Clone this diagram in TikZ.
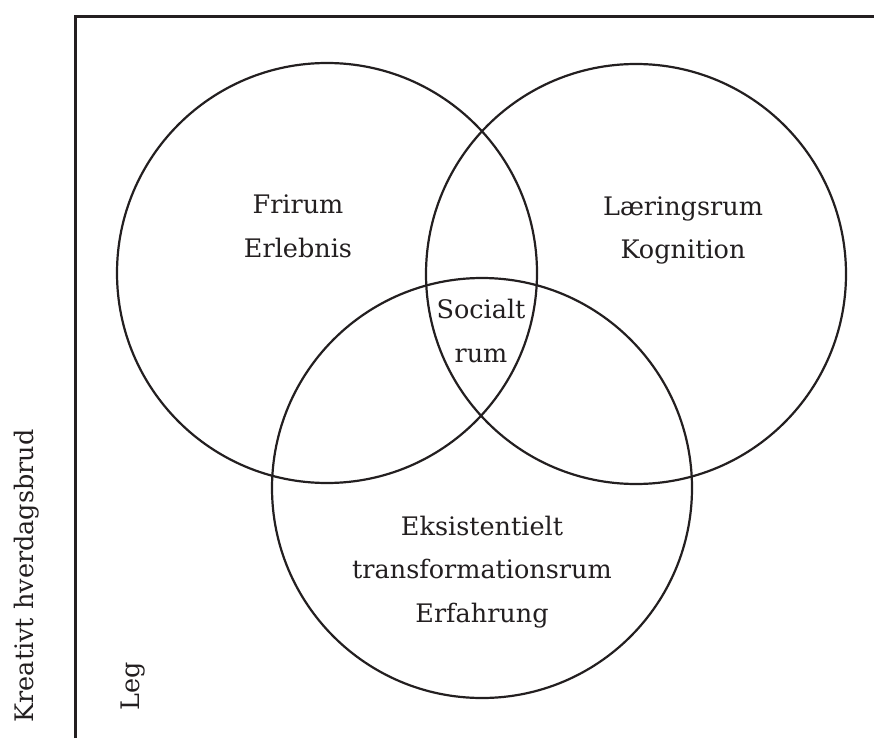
\documentclass[tikz,border=0pt]{standalone}
\usepackage{fontspec}
\setmainfont{DejaVu Serif}
\usepackage{tikz}
\definecolor{ink}{RGB}{35,31,32}
\newcommand{\rumfont}{\fontsize{25.5}{43.5}\selectfont}

\begin{document}
\begin{tikzpicture}[x=1pt,y=-1pt,
    rum/.style={draw=ink,line width=2.2pt},
    rumtext/.style={text=ink,align=center,font=\rumfont,inner sep=0pt},
    sidetext/.style={text=ink,font=\rumfont,rotate=90,anchor=base,inner sep=0pt}]
   \useasboundingbox (0,0) rectangle (874,738);
   % frame
   \draw[ink,line width=3.4pt] (75.5,738) -- (75.5,16.5) -- (874,16.5);
   % the three circles
   \draw[rum] (327,273) circle[radius=210pt];
   \draw[rum] (636,274) circle[radius=210pt];
   \draw[rum] (482,488) circle[radius=210pt];
   \node[rumtext] (frirum) at (298,226.5) {Frirum\\Erlebnis};
   \node[rumtext] (laering) at (683,230.5) {Læringsrum\\Kognition};
   \node[rumtext] (socialt) at (481,331) {Socialt\\rum};
   \node[rumtext] (eksist) at (482,572) {Eksistentielt\\transformationsrum\\Erfahrung};
   \node[sidetext] (kreativ) at (33,576) {Kreativt hverdagsbrud};
   \node[sidetext] (leg) at (139,686.5) {Leg};
\end{tikzpicture}
\end{document}
